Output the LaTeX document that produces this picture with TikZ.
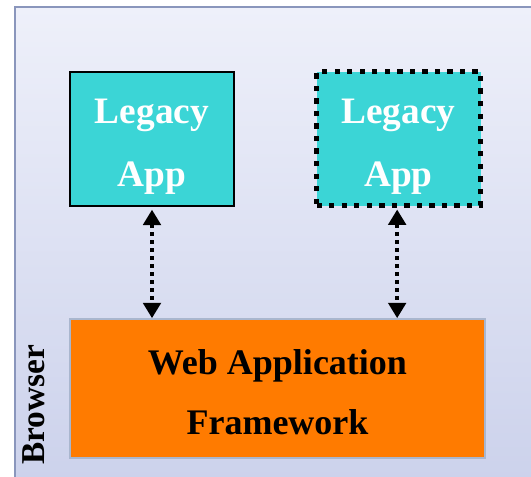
\documentclass[tikz,border=0pt]{standalone}
\usepackage{fontspec}
\setmainfont{Liberation Serif}
\usetikzlibrary{arrows.meta}
\definecolor{frameline}{HTML}{8A96BC}
\definecolor{bgtop}{HTML}{EEF0FA}
\definecolor{bgbottom}{HTML}{CBD1EB}
\definecolor{teal}{HTML}{3BD5D6}
\definecolor{webfill}{HTML}{FF7B00}
\definecolor{webline}{HTML}{A9B6CE}
\tikzset{
  appbox/.style={fill=teal, minimum width=164pt*0.75, minimum height=134pt*0.75, inner sep=0pt},
  solidapp/.style={appbox, draw=black, line width=1.5pt},
  dottedapp/.style={appbox, draw=black, line width=4pt, dash pattern=on 4pt off 5.4pt},
  webbox/.style={fill=webfill, draw=webline, line width=1.2pt, inner sep=0pt,
    minimum width=415pt*0.75, minimum height=139pt*0.75},
  applabel/.style={text=white, font=\fontsize{28}{47}\selectfont\bfseries, align=center, inner sep=0pt},
  weblabel/.style={text=black, font=\fontsize{27}{45}\selectfont\bfseries, align=center, inner sep=0pt},
  link/.style={line width=3pt, dash pattern=on 3pt off 3pt,
    {Triangle[width=13pt,length=11.5pt]}-{Triangle[width=13pt,length=11.5pt]}},
}
\begin{document}
\begin{tikzpicture}[x=0.75pt, y=-0.75pt]
  \useasboundingbox (0,0) rectangle (531,476);
  % browser frame with its vertical shading
  \begin{scope}
    \clip (0,0) rectangle (531,476);
    \shade[top color=bgtop, bottom color=bgbottom, draw=frameline, line width=1.5pt]
      (15,7) rectangle (545,495);
  \end{scope}
  % legacy applications
  \node[solidapp] (l1) at (152,139) {};
  \node[applabel] (l1t) at (152,147) {Legacy\\App};
  \node[dottedapp] (l2) at (398.5,138.5) {};
  \node[applabel] (l2t) at (398.5,147) {Legacy\\App};
  % framework box
  \node[webbox] (web) at (277.5,388.5) {};
  \node[weblabel] (webt) at (277.5,392) {Web Application\\Framework};
  % browser caption
  \node[rotate=90, anchor=base west, inner sep=0pt, font=\fontsize{25}{30}\selectfont\bfseries]
    (brw) at (44,465) {Browser};
  % connections
  \coordinate (a1) at ([yshift=-2pt]l1.south);
  \coordinate (a2) at ([xshift=-1pt,yshift=-1pt]l2.south);
  \draw[link] (a1) -- (a1 |- web.north);
  \draw[link] (a2) -- (a2 |- web.north);
\end{tikzpicture}
\end{document}
